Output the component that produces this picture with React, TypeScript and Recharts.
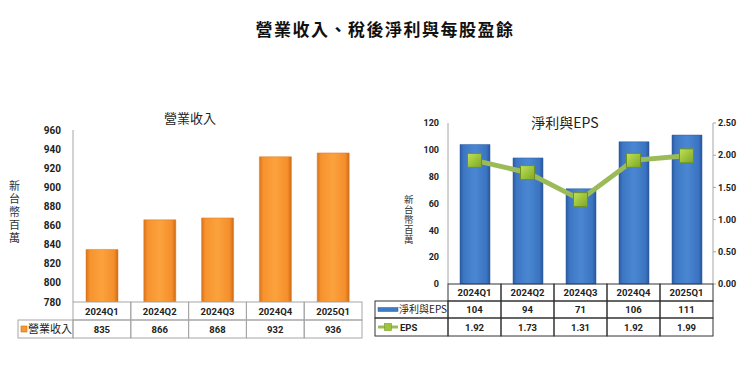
import React from 'react';
import { ComposedChart, Bar, Line, XAxis, YAxis } from 'recharts';

const categories = ['2024Q1', '2024Q2', '2024Q3', '2024Q4', '2025Q1'];
const revenue = [835, 866, 868, 932, 936];
const netIncome = [104, 94, 71, 106, 111];
const eps = [1.92, 1.73, 1.31, 1.92, 1.99];
const revenueTicks = [780, 800, 820, 840, 860, 880, 900, 920, 940, 960];
const netTicks = [0, 20, 40, 60, 80, 100, 120];
const epsTicks = [0, 0.5, 1, 1.5, 2, 2.5];

const mainTitle = '營業收入、稅後淨利與每股盈餘';
const leftTitle = '營業收入';
const rightTitle = '淨利與EPS';
const unitLabel = '新台幣百萬';
const revenueName = '營業收入';
const netName = '淨利與EPS';
const epsName = 'EPS';

const revData = categories.map((c, i) => ({ cat: c, revenue: revenue[i] }));
const netData = categories.map((c, i) => ({ cat: c, net: netIncome[i], eps: eps[i] }));

const NUM_FONT = 'Roboto, "Liberation Sans", sans-serif';
const CJK_FONT = '"Noto Sans CJK TC", "Noto Sans CJK SC", sans-serif';

const LEFT_W = 370;
const LEFT_PLOT_L = 73;
const LEFT_PLOT_R = 362;
const RIGHT_PLOT_L = 78;
const RIGHT_PLOT_R = 343;

function LeftTableTick(props: any) {
  const { x, y, payload } = props;
  const i = payload.index;
  const bw = (LEFT_PLOT_R - LEFT_PLOT_L) / categories.length;
  const h1 = 18;
  const h2 = 18;
  const stroke = '#A6A6A6';
  const x0 = x - bw / 2;
  const legW = 55;
  return (
    <g>
      <rect x={x0} y={y} width={bw} height={h1} fill="none" stroke={stroke} strokeWidth={1} />
      <rect x={x0} y={y + h1} width={bw} height={h2} fill="none" stroke={stroke} strokeWidth={1} />
      <text x={x} y={y + h1 / 2 + 3.5} textAnchor="middle" fontFamily={NUM_FONT} fontWeight={700} fontSize={9.5} fill="#222">
        {categories[i]}
      </text>
      <text x={x} y={y + h1 + h2 / 2 + 3.5} textAnchor="middle" fontFamily={NUM_FONT} fontWeight={700} fontSize={9.5} fill="#222">
        {revenue[i]}
      </text>
      {i === 0 && (
        <g>
          <rect x={x0 - legW} y={y + h1} width={legW} height={h2} fill="none" stroke={stroke} strokeWidth={1} />
          <rect x={x0 - legW + 3} y={y + h1 + h2 / 2 - 3} width={6} height={6} fill="#F59A2E" stroke="#C8711A" strokeWidth={0.6} />
          <text x={x0 - legW + 10} y={y + h1 + h2 / 2 + 4} fontFamily={CJK_FONT} fontSize={11} fill="#222">
            {revenueName}
          </text>
        </g>
      )}
    </g>
  );
}

function RightTableTick(props: any) {
  const { x, y, payload } = props;
  const i = payload.index;
  const bw = (RIGHT_PLOT_R - RIGHT_PLOT_L) / categories.length;
  const h1 = 17;
  const h2 = 17;
  const h3 = 18;
  const stroke = '#333';
  const x0 = x - bw / 2;
  const legW = 73;
  return (
    <g>
      <rect x={x0} y={y} width={bw} height={h1} fill="none" stroke={stroke} strokeWidth={1} />
      <rect x={x0} y={y + h1} width={bw} height={h2} fill="none" stroke={stroke} strokeWidth={1} />
      <rect x={x0} y={y + h1 + h2} width={bw} height={h3} fill="none" stroke={stroke} strokeWidth={1} />
      <text x={x} y={y + h1 / 2 + 3.5} textAnchor="middle" fontFamily={NUM_FONT} fontWeight={700} fontSize={9.5} fill="#222">
        {categories[i]}
      </text>
      <text x={x} y={y + h1 + h2 / 2 + 3.5} textAnchor="middle" fontFamily={NUM_FONT} fontWeight={700} fontSize={9.5} fill="#222">
        {netIncome[i]}
      </text>
      <text x={x} y={y + h1 + h2 + h3 / 2 + 3.5} textAnchor="middle" fontFamily={NUM_FONT} fontWeight={700} fontSize={9.5} fill="#222">
        {eps[i].toFixed(2)}
      </text>
      {i === 0 && (
        <g>
          <rect x={x0 - legW} y={y + h1} width={legW} height={h2} fill="none" stroke={stroke} strokeWidth={1} />
          <rect x={x0 - legW} y={y + h1 + h2} width={legW} height={h3} fill="none" stroke={stroke} strokeWidth={1} />
          <rect x={x0 - legW + 3} y={y + h1 + h2 / 2 - 2} width={20} height={4} fill="#3F7AC7" stroke="#2A5AA0" strokeWidth={0.5} />
          <text x={x0 - legW + 24} y={y + h1 + h2 / 2 + 3.5} fontFamily={CJK_FONT} fontSize={10} fill="#222">
            {netName}
          </text>
          <line x1={x0 - legW + 3} x2={x0 - legW + 23} y1={y + h1 + h2 + h3 / 2} y2={y + h1 + h2 + h3 / 2} stroke="#9BBB59" strokeWidth={3} />
          <rect x={x0 - legW + 9.5} y={y + h1 + h2 + h3 / 2 - 3.5} width={7} height={7} fill="#9DC53B" stroke="#7A9A2A" strokeWidth={0.6} />
          <text x={x0 - legW + 25} y={y + h1 + h2 + h3 / 2 + 3.5} fontFamily={NUM_FONT} fontWeight={700} fontSize={9.5} fill="#222">
            {epsName}
          </text>
        </g>
      )}
    </g>
  );
}

function SquareDot(props: any) {
  const { cx, cy, index } = props;
  if (cx == null || cy == null) return <g key={`d${index}`} />;
  return (
    <rect key={`d${index}`} x={cx - 7} y={cy - 7} width={14} height={14} fill="url(#gGreen)" stroke="#6F8F24" strokeWidth={1} />
  );
}

function VerticalLabel({ left, top, size, gap }: { left: number; top: number; size: number; gap: number }) {
  const w = size + 8;
  return (
    <svg style={{ position: 'absolute', left: left - 4, top: top - 2, overflow: 'visible' }} width={w} height={(size + gap) * unitLabel.length + 6}>
      <text
        x={w / 2}
        y={2}
        fontFamily={CJK_FONT}
        fontSize={size}
        fill="#333"
        letterSpacing={gap}
        style={{ writingMode: 'vertical-rl', textOrientation: 'upright' } as any}
      >
        {unitLabel}
      </text>
    </svg>
  );
}

export default function App() {
  return (
    <div style={{ position: 'absolute', left: 0, top: 0, width: 740, height: 372, background: '#fff', overflow: 'hidden' }}>
      <div style={{ position: 'absolute', left: 0, width: 740, top: 16, textAlign: 'center', fontFamily: CJK_FONT, fontWeight: 700, fontSize: 17, letterSpacing: 1.5, color: '#111', paddingLeft: 30, boxSizing: 'border-box' }}>
        {mainTitle}
      </div>

      {/* Left chart */}
      <div style={{ position: 'absolute', left: 0, top: 0 }}>
        <ComposedChart width={LEFT_W} height={372} data={revData} margin={{ top: 130, right: LEFT_W - LEFT_PLOT_R, bottom: 0, left: 0 }}>
          <defs>
            <linearGradient id="gOrange" x1="0" y1="0" x2="1" y2="0">
              <stop offset="0%" stopColor="#D9731C" />
              <stop offset="12%" stopColor="#F7932E" />
              <stop offset="50%" stopColor="#FBA23D" />
              <stop offset="88%" stopColor="#F48E2B" />
              <stop offset="100%" stopColor="#CF6A16" />
            </linearGradient>
          </defs>
          <XAxis dataKey="cat" axisLine={false} tickLine={false} tickSize={0} tickMargin={0} height={70} interval={0} tick={<LeftTableTick />} />
          <YAxis
            domain={[780, 960]}
            ticks={revenueTicks}
            width={LEFT_PLOT_L}
            tickLine={false}
            tickSize={0}
            tickMargin={12}
            axisLine={{ stroke: '#A6A6A6' }}
            tick={{ fontFamily: NUM_FONT, fontWeight: 700, fontSize: 10, fill: '#222' }}
            interval={0}
            allowDataOverflow
          />
          <Bar dataKey="revenue" barSize={32} fill="url(#gOrange)" stroke="#D97A20" strokeWidth={0.5} isAnimationActive={false} />
        </ComposedChart>
      </div>
      <div style={{ position: 'absolute', left: 140, width: 100, top: 108, textAlign: 'center', fontFamily: CJK_FONT, fontSize: 13, color: '#222' }}>
        {leftTitle}
      </div>
      <VerticalLabel left={9} top={180} size={11} gap={2} />

      {/* Right chart */}
      <div style={{ position: 'absolute', left: 370, top: 0 }}>
        <ComposedChart width={370} height={372} data={netData} margin={{ top: 123, right: 0, bottom: 0, left: 0 }}>
          <defs>
            <linearGradient id="gBlue" x1="0" y1="0" x2="1" y2="0">
              <stop offset="0%" stopColor="#2A5AA0" />
              <stop offset="12%" stopColor="#3D77C4" />
              <stop offset="50%" stopColor="#4A87D2" />
              <stop offset="88%" stopColor="#3B74C0" />
              <stop offset="100%" stopColor="#2A579B" />
            </linearGradient>
            <linearGradient id="gGreen" x1="0" y1="0" x2="1" y2="1">
              <stop offset="0%" stopColor="#C4E05A" />
              <stop offset="50%" stopColor="#9DC53B" />
              <stop offset="100%" stopColor="#7FA52A" />
            </linearGradient>
          </defs>
          <XAxis dataKey="cat" axisLine={false} tickLine={false} tickSize={0} tickMargin={0} height={88} interval={0} tick={<RightTableTick />} />
          <YAxis
            yAxisId="l"
            domain={[0, 120]}
            ticks={netTicks}
            width={RIGHT_PLOT_L}
            tickLine={false}
            tickSize={0}
            tickMargin={9}
            axisLine={{ stroke: '#A6A6A6' }}
            tick={{ fontFamily: NUM_FONT, fontWeight: 700, fontSize: 9, fill: '#222' }}
            interval={0}
          />
          <YAxis
            yAxisId="r"
            orientation="right"
            domain={[0, 2.5]}
            ticks={epsTicks}
            width={370 - RIGHT_PLOT_R}
            tickLine={{ stroke: '#A6A6A6' }}
            tickSize={3}
            tickMargin={2}
            axisLine={{ stroke: '#A6A6A6' }}
            tickFormatter={(v: number) => v.toFixed(2)}
            tick={{ fontFamily: NUM_FONT, fontWeight: 700, fontSize: 9, fill: '#222' }}
            interval={0}
          />
          <Bar yAxisId="l" dataKey="net" barSize={30} fill="url(#gBlue)" stroke="#2A5AA0" strokeWidth={0.5} isAnimationActive={false} />
          <Line yAxisId="r" dataKey="eps" type="linear" stroke="#9BBB59" strokeWidth={5} dot={<SquareDot />} activeDot={false} isAnimationActive={false} />
        </ComposedChart>
      </div>
      <div style={{ position: 'absolute', left: 370 + 130, width: 130, top: 112, textAlign: 'center', fontFamily: CJK_FONT, fontSize: 14, color: '#222' }}>
        {rightTitle}
      </div>
      <VerticalLabel left={404} top={195} size={9.5} gap={0.5} />
    </div>
  );
}
